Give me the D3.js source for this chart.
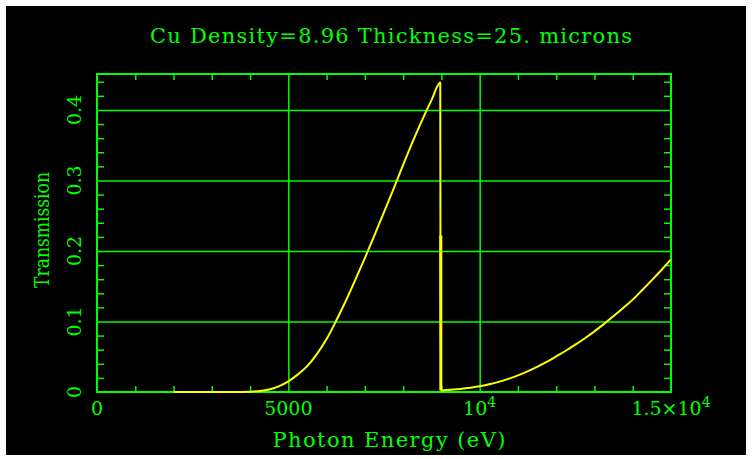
<!DOCTYPE html>
<html><head><meta charset="utf-8">
<script src="https://cdn.jsdelivr.net/npm/d3@7"></script>
<style>
html,body{margin:0;padding:0;background:#fff;}
svg{display:block;}
text{font-family:"DejaVu Serif",serif;fill:#00ff00;}
</style></head>
<body>
<svg id="chart" width="753" height="459"></svg>
<script>
// ---- data ----
const titleText = "Cu Density=8.96 Thickness=25. microns";
const xTitle = "Photon Energy (eV)";
const yTitle = "Transmission";

const energy = [2000,2500,3000,3500,3750,4000,4250,4500,4750,5000,5250,5500,5750,6000,6250,6500,6750,7000,7250,7500,7750,8000,8250,8500,8750,8970,8975,8990,
  9000,9250,9500,9750,10000,10250,10500,10750,11000,11250,11500,11750,12000,12250,12500,12750,13000,13250,13500,13750,14000,14250,14500,14750,15000];
const transmission = [0,0,0,0.00001,0.0001,0.0004,0.0014,0.0036,0.0079,0.015,0.025,0.037,0.054,0.075,0.101,0.129,0.159,0.190,0.222,0.255,0.288,0.322,0.355,0.386,0.415,0.439,0.222,0.0021,
  0.0021,0.0032,0.0044,0.0060,0.008,0.0109,0.0144,0.0186,0.0236,0.0292,0.0356,0.0426,0.0505,0.0585,0.0671,0.0763,0.086,0.0966,0.1077,0.1192,0.131,0.1447,0.1587,0.1731,0.188];

const edgeEnergy = 8985;     // K-edge drop drawn heavy
const edgeTop = 0.222;

const xDomain = [0, 15000];
const yDomain = [0, 0.451];
const xMajorTicks = [0, 5000, 10000, 15000];
const xTickLabels = [["0",""],["5000",""],["10","4"],["1.5\u00d710","4"]];
const xGrid = [5000, 10000];
const xMinorTicks = [1000,2000,3000,4000,6000,7000,8000,9000,11000,12000,13000,14000];
const yMajorTicks = [0, 0.1, 0.2, 0.3, 0.4];
const yTickLabels = ["0","0.1","0.2","0.3","0.4"];
const yGrid = [0.1, 0.2, 0.3, 0.4];
const yMinorTicks = [0.02,0.04,0.06,0.08,0.12,0.14,0.16,0.18,0.22,0.24,0.26,0.28,0.32,0.34,0.36,0.38,0.42,0.44];

// ---- layout ----
const svg = d3.select("#chart");
const L = 97, R = 671, T = 74, B = 392;
const green = "#00ff00", yellow = "#ffff00";

svg.append("rect").attr("x",6).attr("y",6).attr("width",740).attr("height",449).attr("fill","#000");

const x = d3.scaleLinear().domain(xDomain).range([L, R]);
const y = d3.scaleLinear().domain(yDomain).range([B, T]);

function styleAxis(g, w){
  g.select(".domain").remove();
  g.selectAll(".tick line").attr("stroke", green).attr("stroke-width", w);
  g.selectAll(".tick text").remove();
}
// grid lines
svg.append("g").attr("transform",`translate(0,${B})`)
  .call(d3.axisBottom(x).tickValues(xGrid).tickSize(-(B-T)).tickFormat(""))
  .call(g=>styleAxis(g,1.5));
svg.append("g").attr("transform",`translate(${L},0)`)
  .call(d3.axisLeft(y).tickValues(yGrid).tickSize(-(R-L)).tickFormat(""))
  .call(g=>styleAxis(g,1.5));
// minor ticks on all four sides
svg.append("g").attr("transform",`translate(0,${B})`)
  .call(d3.axisBottom(x).tickValues(xMinorTicks).tickSize(-6).tickFormat("")).call(g=>styleAxis(g,1.5));
svg.append("g").attr("transform",`translate(0,${T})`)
  .call(d3.axisTop(x).tickValues(xMinorTicks).tickSize(-6).tickFormat("")).call(g=>styleAxis(g,1.5));
svg.append("g").attr("transform",`translate(${L},0)`)
  .call(d3.axisLeft(y).tickValues(yMinorTicks).tickSize(-7).tickFormat("")).call(g=>styleAxis(g,1.5));
svg.append("g").attr("transform",`translate(${R},0)`)
  .call(d3.axisRight(y).tickValues(yMinorTicks).tickSize(-7).tickFormat("")).call(g=>styleAxis(g,1.5));
// frame
svg.append("rect").attr("x",L).attr("y",T).attr("width",R-L).attr("height",B-T)
  .attr("fill","none").attr("stroke",green).attr("stroke-width",2);

// x tick labels
xMajorTicks.forEach((v,i)=>{
  const t = svg.append("text").attr("x", x(v)).attr("y", 415).attr("text-anchor","middle")
    .attr("font-size", 19);
  t.append("tspan").text(xTickLabels[i][0]);
  if (xTickLabels[i][1]) t.append("tspan").attr("dy",-8).attr("font-size",14).text(xTickLabels[i][1]);
});
// y tick labels (rotated)
yMajorTicks.forEach((v,i)=>{
  svg.append("text").attr("transform",`translate(81,${y(v)}) rotate(-90)`)
    .attr("text-anchor","middle").attr("font-size",19).text(yTickLabels[i]);
});

// titles
svg.append("text").attr("x",391).attr("y",43).attr("text-anchor","middle")
  .attr("font-size",21).attr("textLength",482).attr("lengthAdjust","spacing").text(titleText);
svg.append("text").attr("x",389).attr("y",447).attr("text-anchor","middle")
  .attr("font-size",21).attr("textLength",233).attr("lengthAdjust","spacing").text(xTitle);
svg.append("text").attr("transform",`translate(49,230) rotate(-90)`).attr("text-anchor","middle")
  .attr("font-size",21).attr("textLength",116).attr("lengthAdjust","spacingAndGlyphs").text(yTitle);

// curve
const pts = energy.map((e,i)=>[e, transmission[i]]);
const line = d3.line().x(d=>x(d[0])).y(d=>y(d[1])).curve(d3.curveMonotoneX);
svg.append("path").datum(pts).attr("d", line).attr("fill","none")
  .attr("stroke", yellow).attr("stroke-width", 2).attr("stroke-linejoin","round");
svg.append("path").datum([[edgeEnergy, edgeTop],[edgeEnergy, 0.0021]]).attr("d", line)
  .attr("fill","none").attr("stroke", yellow).attr("stroke-width", 3);
</script>
</body></html>
